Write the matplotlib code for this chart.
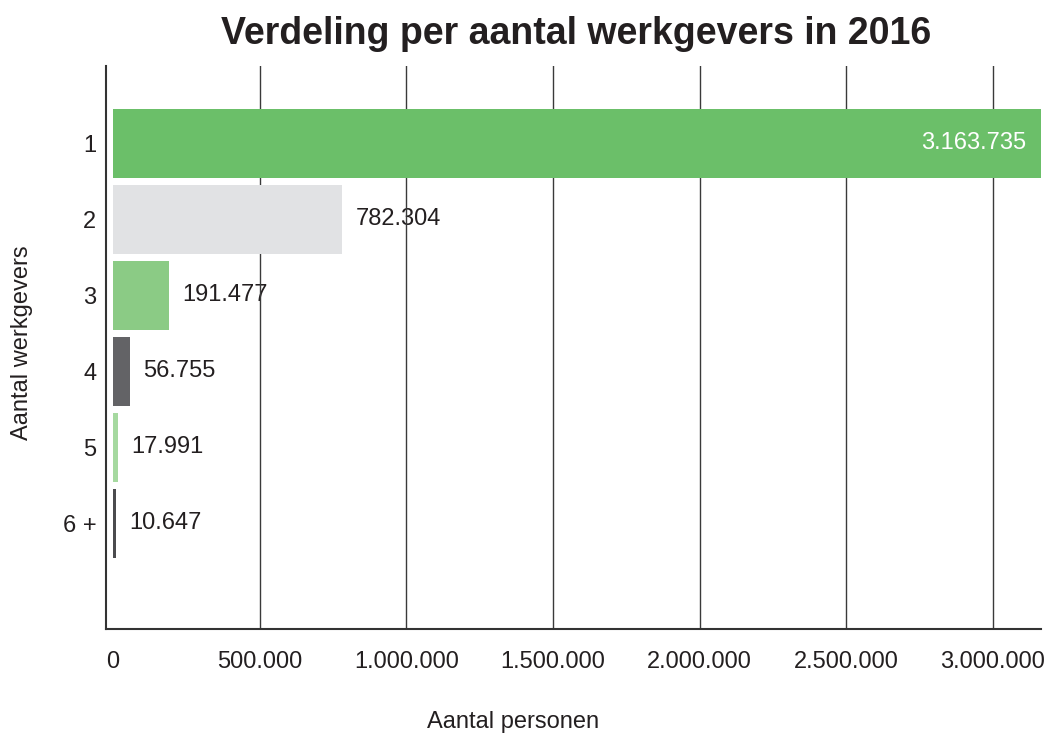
import numpy as np
import matplotlib.pyplot as plt

# Data
categories = ['1', '2', '3', '4', '5', '6 +']
personen = [3163735, 782304, 191477, 56755, 17991, 10647]
value_labels = ['3.163.735', '782.304', '191.477', '56.755', '17.991', '10.647']
bar_colors = ['#6BBF69', '#E1E2E4', '#8BCB85', '#636366', '#A6D9A0', '#4B4B4E']
x_ticks = [0, 500000, 1000000, 1500000, 2000000, 2500000, 3000000]
x_ticklabels = ['0', '500.000', '1.000.000', '1.500.000', '2.000.000', '2.500.000', '3.000.000']

plt.rcParams['font.family'] = ['Liberation Sans', 'DejaVu Sans']
text_color = '#231F20'

fig = plt.figure(figsize=(10.48, 7.34), dpi=100)
ax = fig.add_axes([106 / 1048, 1 - 629 / 734, 935 / 1048, 563 / 734])

y = np.arange(len(categories))
ax.barh(y, personen, height=0.9, color=bar_colors, zorder=2)

# vertical gridlines, none at zero
for t in x_ticks[1:]:
    ax.axvline(t, color='#3A3A3A', linewidth=1.0, zorder=1)

# value labels: largest inside bar in white, others to the right
for i, (v, lab) in enumerate(zip(personen, value_labels)):
    if i == 0:
        ax.annotate(lab, (v, i), xytext=(-15, 0), textcoords='offset pixels',
                    ha='right', va='center', color='white', fontsize=17, zorder=3)
    else:
        ax.annotate(lab, (v, i), xytext=(13, 0), textcoords='offset pixels',
                    ha='left', va='center', color=text_color, fontsize=17, zorder=0.5)

ax.set_xlim(-24000, 3163735)
ax.set_ylim(len(categories) - 1 + 1.39, -1.017)

ax.set_xticks(x_ticks)
ax.set_xticklabels(x_ticklabels)
ax.set_yticks(y)
ax.set_yticklabels(categories)
ax.tick_params(axis='both', length=0, labelsize=17, labelcolor=text_color)
ax.tick_params(axis='x', pad=16)
ax.tick_params(axis='y', pad=7)

for side in ['top', 'right']:
    ax.spines[side].set_visible(False)
for side in ['left', 'bottom']:
    ax.spines[side].set_color('#333333')
    ax.spines[side].set_linewidth(1.5)
    ax.spines[side].set_zorder(3)

ax.set_xlabel('Aantal personen', fontsize=17, color=text_color)
ax.xaxis.set_label_coords(0.435, -0.146)
ax.set_ylabel('Aantal werkgevers', fontsize=17, color=text_color)
ax.yaxis.set_label_coords(-0.078, 0.508)

fig.text(576 / 1048, 1 - 34 / 734, 'Verdeling per aantal werkgevers in 2016',
         ha='center', va='center', fontsize=27, fontweight='bold', color=text_color)

fig.savefig('out.png', dpi=100)
